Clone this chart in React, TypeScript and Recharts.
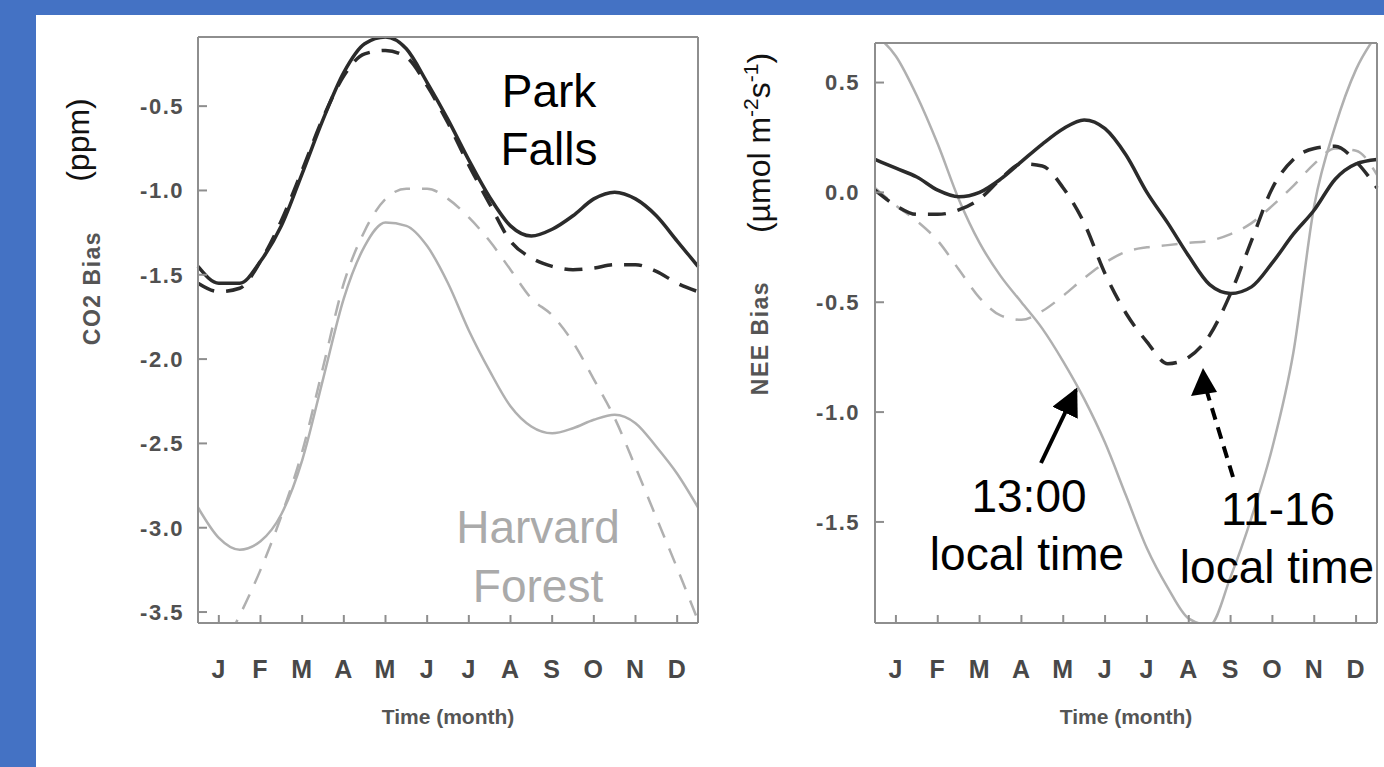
import { LineChart, Line, XAxis, YAxis } from 'recharts';

// time grid in months (0 = start of Jan, 12 = end of Dec)
const timeGrid = [0, 0.5, 1, 1.5, 2, 2.5, 3, 3.5, 4, 4.5, 5, 5.5, 6, 6.5, 7, 7.5, 8, 8.5, 9, 9.5, 10, 10.5, 11, 11.5, 12];
const monthLabels = ['J', 'F', 'M', 'A', 'M', 'J', 'J', 'A', 'S', 'O', 'N', 'D'];
const monthTicks = [0.5, 1.5, 2.5, 3.5, 4.5, 5.5, 6.5, 7.5, 8.5, 9.5, 10.5, 11.5];

const co2Ticks = [-3.5, -3.0, -2.5, -2.0, -1.5, -1.0, -0.5];
const co2MinorTicks = [-3.5, -3.4, -3.3, -3.2, -3.1, -3.0, -2.9, -2.8, -2.7, -2.6, -2.5, -2.4, -2.3, -2.2, -2.1, -2.0, -1.9, -1.8, -1.7, -1.6, -1.5, -1.4, -1.3, -1.2, -1.1, -1.0, -0.9, -0.8, -0.7, -0.6, -0.5, -0.4, -0.3, -0.2];
const neeTicks = [-1.5, -1.0, -0.5, 0.0, 0.5];
const neeMinorTicks = [-1.9, -1.8, -1.7, -1.6, -1.5, -1.4, -1.3, -1.2, -1.1, -1.0, -0.9, -0.8, -0.7, -0.6, -0.5, -0.4, -0.3, -0.2, -0.1, 0.0, 0.1, 0.2, 0.3, 0.4, 0.5, 0.6];

// CO2 bias (ppm)
const parkFallsCo2 = [-1.45, -1.55, -1.55, -1.42, -1.21, -0.9, -0.58, -0.3, -0.13, -0.09, -0.16, -0.36, -0.58, -0.82, -1.04, -1.21, -1.27, -1.23, -1.15, -1.05, -1.01, -1.05, -1.15, -1.3, -1.45];
const parkFallsCo2Window = [-1.55, -1.6, -1.58, -1.42, -1.18, -0.88, -0.57, -0.32, -0.19, -0.17, -0.21, -0.38, -0.6, -0.85, -1.08, -1.3, -1.4, -1.45, -1.47, -1.46, -1.44, -1.44, -1.48, -1.55, -1.6];
const harvardCo2 = [-2.88, -3.06, -3.13, -3.08, -2.92, -2.6, -2.12, -1.64, -1.33, -1.19, -1.21, -1.33, -1.55, -1.83, -2.07, -2.28, -2.4, -2.44, -2.41, -2.36, -2.33, -2.38, -2.52, -2.68, -2.88];
const harvardCo2Window = [-3.9, -3.75, -3.52, -3.25, -2.93, -2.55, -2.05, -1.55, -1.24, -1.05, -0.99, -0.99, -1.05, -1.16, -1.3, -1.47, -1.64, -1.74, -1.9, -2.12, -2.35, -2.64, -2.94, -3.24, -3.55];

// NEE bias (umol m-2 s-1)
const parkFallsNee = [0.15, 0.11, 0.07, 0.01, -0.02, 0.0, 0.06, 0.14, 0.22, 0.29, 0.33, 0.29, 0.17, 0.0, -0.14, -0.29, -0.42, -0.46, -0.43, -0.32, -0.19, -0.08, 0.06, 0.13, 0.15];
const parkFallsNeeWindow = [0.01, -0.06, -0.1, -0.1, -0.08, -0.03, 0.06, 0.13, 0.12, 0.02, -0.14, -0.37, -0.55, -0.68, -0.78, -0.75, -0.65, -0.46, -0.22, 0.02, 0.15, 0.2, 0.21, 0.14, 0.02];
const harvardNee = [0.72, 0.62, 0.44, 0.22, -0.03, -0.23, -0.38, -0.5, -0.62, -0.77, -0.94, -1.14, -1.38, -1.62, -1.8, -1.94, -1.97, -1.75, -1.48, -1.16, -0.73, -0.06, 0.3, 0.56, 0.72];
const harvardNeeWindow = [0.02, -0.06, -0.13, -0.22, -0.35, -0.48, -0.56, -0.58, -0.54, -0.47, -0.39, -0.32, -0.27, -0.25, -0.24, -0.23, -0.22, -0.19, -0.14, -0.06, 0.03, 0.13, 0.2, 0.19, 0.08];

const co2Data = timeGrid.map((t, i) => ({
  t,
  pf: parkFallsCo2[i],
  pfWin: parkFallsCo2Window[i],
  hf: harvardCo2[i],
  hfWin: harvardCo2Window[i],
}));

const neeData = timeGrid.map((t, i) => ({
  t,
  pf: parkFallsNee[i],
  pfWin: parkFallsNeeWindow[i],
  hf: harvardNee[i],
  hfWin: harvardNeeWindow[i],
}));

const FONT = '"Liberation Sans", Arial, Helvetica, sans-serif';
const FRAME = '#8e8e8e';
const DARK = '#2b2b2b';
const LIGHT = '#b0b0b0';

const tickText = { fill: '#505050', fontSize: 22, fontWeight: 700, fontFamily: FONT, letterSpacing: 1.5 };
const monthText = { fill: '#484848', fontSize: 25, fontWeight: 700, fontFamily: FONT, letterSpacing: 1 };
const frameLine = { stroke: FRAME, strokeWidth: 2 };
const minorLine = { stroke: FRAME, strokeWidth: 1.5 };

function Panel({ data, domain, ticks, minorTicks, width, margin, labelGap }: any) {
  return (
    <LineChart width={width} height={767} data={data} margin={margin}>
      <XAxis
        dataKey="t"
        type="number"
        domain={[0, 12]}
        ticks={monthTicks}
        interval={0}
        tickFormatter={(v: number) => monthLabels[Math.floor(v)]}
        height={60}
        tickSize={-8}
        tickMargin={45}
        axisLine={frameLine}
        tickLine={frameLine}
        tick={monthText}
      />
      <XAxis
        xAxisId="top"
        dataKey="t"
        type="number"
        orientation="top"
        domain={[0, 12]}
        ticks={monthTicks}
        interval={0}
        height={8}
        tickSize={-8}
        axisLine={frameLine}
        tickLine={frameLine}
        tick={false}
      />
      <YAxis
        yAxisId="minor"
        type="number"
        mirror
        domain={domain}
        allowDataOverflow
        ticks={minorTicks}
        interval={0}
        tickSize={5}
        axisLine={false}
        tickLine={minorLine}
        tick={false}
      />
      <YAxis
        type="number"
        domain={domain}
        allowDataOverflow
        ticks={ticks}
        interval={0}
        width={80}
        tickSize={-9}
        tickMargin={labelGap}
        tickFormatter={(v: number) => v.toFixed(1)}
        axisLine={frameLine}
        tickLine={frameLine}
        tick={tickText}
      />
      <YAxis
        yAxisId="right"
        type="number"
        orientation="right"
        domain={domain}
        allowDataOverflow
        ticks={minorTicks}
        interval={0}
        width={6}
        tickSize={-5}
        axisLine={frameLine}
        tickLine={minorLine}
        tick={false}
      />
      <Line type="monotone" dataKey="hfWin" stroke={LIGHT} strokeWidth={2.5} strokeDasharray="16 12" dot={false} isAnimationActive={false} />
      <Line type="monotone" dataKey="hf" stroke={LIGHT} strokeWidth={2.5} dot={false} isAnimationActive={false} />
      <Line type="monotone" dataKey="pfWin" stroke={DARK} strokeWidth={3.5} strokeDasharray="18 12" dot={false} isAnimationActive={false} />
      <Line type="monotone" dataKey="pf" stroke={DARK} strokeWidth={3.5} dot={false} isAnimationActive={false} />
    </LineChart>
  );
}

export default function App() {
  const annot = { fontFamily: FONT, fontSize: 46, textAnchor: 'middle' as const };
  const axisTitle = { fontFamily: FONT, fontSize: 23, fontWeight: 700, fill: '#555', letterSpacing: 1.5, textAnchor: 'middle' as const };
  const unitTitle = { fontFamily: FONT, fontSize: 32, fill: '#111', textAnchor: 'middle' as const };
  const timeTitle = { fontFamily: FONT, fontSize: 21, fontWeight: 700, fill: '#555', textAnchor: 'middle' as const };
  return (
    <div style={{ position: 'fixed', left: 0, top: 0, width: 1384, height: 767, background: '#4472c4', overflow: 'hidden' }}>
      <div style={{ position: 'absolute', left: 36, top: 15, right: 0, bottom: 0, background: '#ffffff' }} />
      <div style={{ position: 'absolute', left: 0, top: 0 }}>
        <Panel data={co2Data} domain={[-3.565, -0.09]} ticks={co2Ticks} minorTicks={co2MinorTicks} width={720} labelGap={23} margin={{ top: 29, right: 16, bottom: 84, left: 118 }} />
      </div>
      <div style={{ position: 'absolute', left: 700, top: 0 }}>
        <Panel data={neeData} domain={[-1.96, 0.68]} ticks={neeTicks} minorTicks={neeMinorTicks} width={684} labelGap={24} margin={{ top: 35, right: 1, bottom: 84, left: 95 }} />
      </div>
      <svg width={1384} height={767} style={{ position: 'absolute', left: 0, top: 0, pointerEvents: 'none' }}>
        <defs>
          <marker id="headSolid" viewBox="0 0 10 10" refX="9" refY="5" markerWidth="7" markerHeight="7" markerUnits="strokeWidth" orient="auto">
            <path d="M0,0 L10,5 L0,10 z" fill="#000" />
          </marker>
        </defs>
        {/* axis titles */}
        <text {...unitTitle} transform="translate(89,140) rotate(-90)">(ppm)</text>
        <text {...axisTitle} transform="translate(100,288) rotate(-90)">CO2 Bias</text>
        <text {...unitTitle} transform="translate(770,143) rotate(-90)">
          (µmol m<tspan fontSize={21} dy={-12}>-2</tspan><tspan dy={12}>s</tspan><tspan fontSize={21} dy={-12}>-1</tspan><tspan dy={12}>)</tspan>
        </text>
        <text {...axisTitle} transform="translate(768,338) rotate(-90)">NEE Bias</text>
        <text {...timeTitle} x={448} y={724}>Time (month)</text>
        <text {...timeTitle} x={1126} y={724}>Time (month)</text>
        {/* site labels */}
        <text {...annot} fill="#000" x={549} y={107}>Park</text>
        <text {...annot} fill="#000" x={549} y={165}>Falls</text>
        <text {...annot} fill="#aaa" x={538} y={543}>Harvard</text>
        <text {...annot} fill="#aaa" x={538} y={602}>Forest</text>
        {/* sampling annotations */}
        <text {...annot} fill="#000" x={1029} y={512}>13:00</text>
        <text {...annot} fill="#000" x={1027} y={570}>local time</text>
        <text {...annot} fill="#000" x={1278} y={525}>11-16</text>
        <text {...annot} fill="#000" x={1277} y={583}>local time</text>
        <line x1={1041} y1={463} x2={1076} y2={390} stroke="#000" strokeWidth={4} markerEnd="url(#headSolid)" />
        <line x1={1233} y1={477} x2={1207} y2={392} stroke="#000" strokeWidth={4} strokeDasharray="12 8" />
        <path d="M1203,368 L1191,396 L1217,392 z" fill="#000" />
      </svg>
    </div>
  );
}
